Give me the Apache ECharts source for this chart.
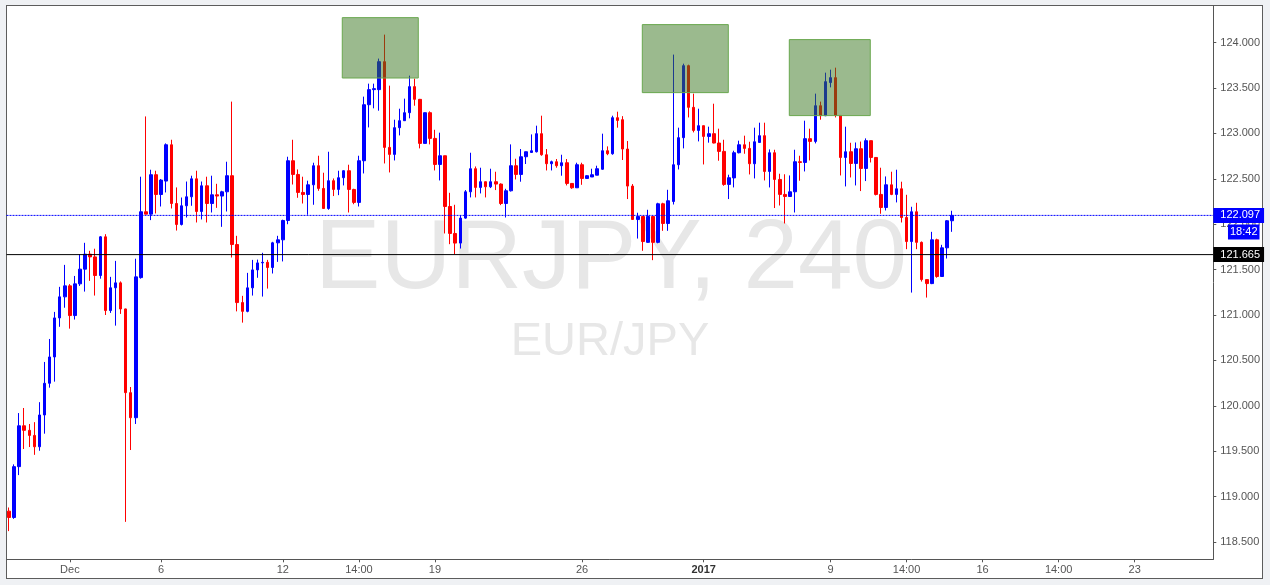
<!DOCTYPE html>
<html>
<head>
<meta charset="utf-8">
<script src="https://cdn.jsdelivr.net/npm/echarts@6/dist/echarts.min.js"></script>
<style>
html,body{margin:0;padding:0;background:#eff1f4;width:1270px;height:585px;overflow:hidden;}
#frame{position:absolute;left:6px;top:5px;width:1257px;height:574px;background:#fff;border:1px solid #5c5c5c;box-sizing:border-box;}
#chart{position:absolute;left:0;top:0;width:1270px;height:585px;}
</style>
</head>
<body>
<div id="frame"></div>
<div id="chart"></div>
<script>
// ---- data (EURJPY, 4h candles) ----
const slotCount = 238; // candle slots incl. future empty area
const categories = Array.from({length: slotCount}, (_, i) => String(i));

const opens = [
118.84,118.77,119.33,119.78,119.73,119.674,119.549,119.899,120.248,120.538,
120.968,121.20,121.321,120.994,121.343,121.505,121.67,121.64,121.435,121.861,
121.049,121.30,121.354,121.067,120.145,119.869,121.412,122.137,122.111,122.545,
122.327,122.475,122.875,122.228,121.997,122.203,122.302,122.50,122.14,122.423,
122.228,122.324,122.31,122.357,122.534,121.776,121.137,121.04,121.299,121.497,
121.574,121.58,121.523,121.795,121.828,122.041,122.699,122.548,122.35,122.327,
122.434,122.644,122.394,122.173,122.479,122.383,122.512,122.589,122.383,122.24,
122.699,123.316,123.482,123.482,123.79,122.846,122.769,123.063,123.14,123.228,
123.515,123.375,122.89,123.228,122.945,122.658,122.754,122.195,121.898,121.792,
122.067,122.357,122.611,122.405,122.468,122.412,122.468,122.442,122.228,122.368,
122.644,122.548,122.743,122.79,122.798,122.997,122.765,122.666,122.688,122.644,
122.677,122.449,122.401,122.655,122.504,122.52,122.54,122.605,122.809,122.776,
123.173,123.151,122.828,122.42,122.052,122.085,121.80,122.085,121.80,122.225,
122.008,122.25,122.655,122.953,123.746,123.287,123.033,123.085,122.967,122.997,
122.894,122.802,122.438,122.51,122.787,122.875,122.835,122.666,122.90,122.975,
122.581,122.787,122.493,122.328,122.305,122.357,122.688,122.68,122.942,122.912,
123.305,123.195,123.56,123.614,123.198,122.735,122.798,122.669,122.831,122.614,
122.92,122.735,122.328,122.184,122.434,122.328,122.39,122.074,121.809,122.137,
121.80,121.39,121.346,121.828,121.424,121.74,122.038
];
const closes = [
118.77,119.33,119.78,119.73,119.674,119.549,119.899,120.248,120.538,120.968,
121.20,121.321,120.994,121.343,121.505,121.67,121.64,121.435,121.861,121.049,
121.30,121.354,121.067,120.145,119.869,121.42,122.137,122.111,122.545,122.327,
122.486,122.875,122.228,121.997,122.203,122.302,122.50,122.14,122.423,122.228,
122.324,122.31,122.357,122.534,121.776,121.137,121.04,121.299,121.497,121.574,
121.58,121.523,121.795,121.828,122.041,122.699,122.548,122.35,122.327,122.434,
122.644,122.394,122.173,122.479,122.383,122.512,122.589,122.383,122.24,122.699,
123.316,123.482,123.493,123.79,122.846,122.769,123.063,123.14,123.228,123.515,
123.375,122.89,123.228,122.945,122.658,122.754,122.195,121.898,121.792,122.067,
122.357,122.611,122.405,122.468,122.412,122.468,122.442,122.228,122.368,122.644,
122.548,122.743,122.798,122.809,122.997,122.765,122.666,122.688,122.644,122.677,
122.449,122.401,122.655,122.504,122.534,122.545,122.611,122.809,122.776,123.173,
123.143,122.828,122.42,122.052,122.085,121.809,122.085,121.80,122.225,122.008,
122.258,122.655,122.953,123.746,123.287,123.033,123.085,122.967,122.997,122.894,
122.802,122.438,122.512,122.787,122.875,122.835,122.666,122.908,122.975,122.581,
122.787,122.493,122.328,122.305,122.357,122.688,122.68,122.942,122.912,123.305,
123.195,123.57,123.614,123.198,122.735,122.798,122.669,122.831,122.614,122.92,
122.735,122.328,122.184,122.434,122.328,122.39,122.074,121.809,122.137,121.80,
121.39,121.346,121.828,121.424,121.74,122.038,122.097
];
const lows = [
118.62,118.755,119.237,119.524,119.546,119.46,119.505,119.693,120.20,120.266,
120.87,121.08,120.85,120.95,121.32,121.258,121.376,121.214,121.40,121.00,
121.023,120.883,121.012,118.722,119.513,119.80,121.40,122.11,122.045,122.118,
122.195,122.35,122.173,121.93,121.986,122.074,122.203,122.019,122.052,122.019,
122.129,122.18,121.971,122.14,121.633,121.04,120.916,121.03,121.214,121.41,
121.203,121.291,121.457,121.585,121.59,122.0,122.437,122.291,122.228,122.104,
122.214,122.368,122.17,122.159,122.31,122.32,122.427,122.129,122.22,122.195,
122.559,123.066,123.276,123.25,122.669,122.57,122.702,122.978,123.14,123.166,
123.305,122.835,122.89,122.879,122.592,122.482,121.898,121.78,121.67,121.732,
122.06,122.295,122.295,122.339,122.295,122.398,122.376,122.21,122.074,122.36,
122.493,122.468,122.663,122.79,122.79,122.754,122.592,122.592,122.622,122.534,
122.427,122.39,122.40,122.434,122.50,122.52,122.54,122.60,122.76,122.765,
123.063,122.707,122.277,122.05,121.842,121.707,121.795,121.604,121.79,121.927,
121.927,122.217,122.603,122.835,123.176,123.011,122.912,122.658,122.898,122.89,
122.699,122.423,122.277,122.405,122.78,122.776,122.548,122.504,122.90,122.482,
122.405,122.178,122.206,122.008,122.305,122.129,122.479,122.581,122.702,122.89,
123.151,123.19,123.507,123.176,122.537,122.416,122.515,122.427,122.365,122.475,
122.68,122.317,122.115,122.151,122.32,122.24,122.019,121.725,121.247,121.725,
121.368,121.192,121.34,121.41,121.42,121.622,121.916
];
const highs = [
118.88,119.355,119.92,119.976,119.80,119.82,120.04,120.483,120.736,121.034,
121.31,121.552,121.34,121.43,121.67,121.795,121.707,121.73,121.87,121.89,
121.42,121.596,121.37,121.07,120.207,121.62,122.523,123.187,122.60,122.589,
122.497,122.89,122.93,122.405,122.294,122.47,122.534,122.589,122.47,122.523,
122.534,122.445,122.368,122.688,123.35,121.872,121.211,121.464,121.607,121.61,
121.685,121.607,121.806,121.872,122.05,122.743,122.93,122.603,122.523,122.479,
122.677,122.754,122.567,122.798,122.504,122.589,122.595,122.655,122.39,122.754,
123.405,123.548,123.548,123.824,124.088,123.526,123.151,123.272,123.383,123.636,
123.603,123.38,123.23,123.243,123.04,123.008,122.754,122.346,122.214,122.1,
122.376,122.787,122.636,122.622,122.47,122.611,122.578,122.45,122.39,122.879,
122.721,122.828,122.80,122.989,123.085,123.195,122.828,122.70,122.718,122.765,
122.718,122.45,122.677,122.677,122.54,122.611,122.644,122.997,122.857,123.195,
123.239,123.19,122.916,122.442,122.126,122.09,122.159,122.09,122.236,122.236,
122.379,123.868,123.063,123.768,123.757,123.438,123.272,123.085,123.074,123.327,
123.052,122.93,122.545,122.809,122.92,122.975,122.908,123.063,123.118,123.118,
122.824,122.82,122.556,122.55,122.537,122.82,122.754,123.14,123.052,123.438,
123.35,123.669,123.702,123.724,123.2,123.074,122.897,122.90,122.91,122.945,
122.92,122.74,122.622,122.526,122.578,122.6,122.468,122.324,122.192,122.236,
121.81,121.39,121.916,121.84,121.773,122.045,122.148
];

const xTickLabels = [[12,'Dec'],[30,'6'],[54,'12'],[69,'14:00'],[84,'19'],[113,'26'],[137,'2017'],[162,'9'],[177,'14:00'],[192,'16'],[207,'14:00'],[222,'23']];
const yTickValues = [118.5,119,119.5,120,120.5,121,121.5,122,122.5,123,123.5,124];
const yRange = [118.3096, 124.4086];

const lastPrice = 122.097;
const lastCountdown = '18:42';
const levelLine = 121.665;

// highlighted zones: [fromSlot, toSlot, lowPrice, highPrice]
const zones = [
  [65.72, 80.71, 123.61, 124.275],
  [124.89, 141.85, 123.449, 124.198],
  [153.88, 169.85, 123.196, 124.033]
];

const watermarkMain = 'EURJPY, 240';
const watermarkSub = 'EUR/JPY';

// ---- chart ----
const tickMap = new Map(xTickLabels);
const candleData = opens.map((o, i) => [o, closes[i], lows[i], highs[i]]);
const FONT = '"Liberation Sans", Arial, sans-serif';
const UP = '#0000ff', DOWN = '#ff0000';
const slotMin = -0.5, slotMax = slotCount - 0.5;

function priceLineSeries(value, color, lineType, z) {
  return {
    type: 'line',
    xAxisIndex: 1,
    yAxisIndex: 0,
    data: [[slotMin, value], [slotMax, value]],
    silent: true,
    showSymbol: false,
    symbol: 'none',
    clip: false,
    color: color,
    z: z,
    lineStyle: {color: color, type: lineType, width: 1, opacity: 1},
    endLabel: {show: true, distance: 0, formatter: () => value.toFixed(3),
      color: '#fff', backgroundColor: color, padding: [2, 4, 1, 7], fontSize: 11, lineHeight: 12, fontFamily: FONT},
    emphasis: {disabled: true}
  };
}

const chart = echarts.init(document.getElementById('chart'));
const option = {
  animation: false,
  backgroundColor: 'transparent',
  grid: {left: 6.5, right: 56.7, top: 5.5, bottom: 25.7},
  xAxis: [{
    type: 'category',
    data: categories,
    boundaryGap: true,
    axisLine: {show: true, onZero: false, lineStyle: {color: '#555', width: 1}},
    axisTick: {show: true, alignWithLabel: true, length: 3, interval: (i) => tickMap.has(i), lineStyle: {color: '#555'}},
    axisLabel: {
      show: true,
      interval: (i) => tickMap.has(i),
      formatter: (v) => {
        const t = tickMap.get(Number(v));
        if (!t) return '';
        return t === '2017' ? '{b|' + t + '}' : t;
      },
      color: '#555', fontSize: 11, fontFamily: FONT, margin: 5,
      rich: {b: {fontWeight: 'bold', color: '#333', fontSize: 11, fontFamily: FONT}}
    },
    splitLine: {show: false}
  }, {
    type: 'value', min: slotMin, max: slotMax, show: false,
    axisLine: {show: false, onZero: false}
  }],
  yAxis: {
    type: 'value',
    position: 'right',
    min: yRange[0], max: yRange[1],
    splitNumber: 12,
    axisLine: {show: true, onZero: false, lineStyle: {color: '#555', width: 1}},
    axisTick: {show: true, length: 3, customValues: yTickValues, lineStyle: {color: '#555'}},
    axisLabel: {customValues: yTickValues, formatter: (v) => Number(v).toFixed(3), color: '#555', fontSize: 11, fontFamily: FONT, margin: 7},
    splitLine: {show: false}
  },
  series: [{
    type: 'candlestick',
    data: candleData,
    barWidth: 3,
    z: 2,
    itemStyle: {color: UP, color0: DOWN, borderColor: UP, borderColor0: DOWN, borderWidth: 1}
  },
  priceLineSeries(lastPrice, UP, [2, 1], 6),
  priceLineSeries(levelLine, '#000000', 'solid', 6),
  {
    type: 'line',
    xAxisIndex: 1,
    yAxisIndex: 0,
    data: [],
    silent: true,
    z: 10,
    markArea: {
      silent: true,
      z: 10,
      itemStyle: {color: 'rgba(56,118,29,0.5)', borderColor: '#6aa84f', borderWidth: 1},
      data: zones.map(z => [{xAxis: z[0], yAxis: z[3]}, {xAxis: z[1], yAxis: z[2]}])
    }
  }],
  graphic: [
    {type: 'text', id: 'wm1', z: 0, x: 611, y: 261, silent: true,
      style: {text: watermarkMain, fontSize: 98, fontFamily: FONT, fill: '#e7e7e7', align: 'center', verticalAlign: 'middle'}},
    {type: 'text', id: 'wm2', z: 0, x: 610, y: 342.5, silent: true,
      style: {text: watermarkSub, fontSize: 47, fontFamily: FONT, fill: '#e7e7e7', align: 'center', verticalAlign: 'middle'}}
  ]
};
chart.setOption(option);

const yPix = chart.convertToPixel({yAxisIndex: 0}, lastPrice);
chart.setOption({
  graphic: [{
    type: 'text', id: 'countdown', z: 100, x: 1259.5, y: yPix + 9, silent: true,
    style: {text: lastCountdown, fill: '#fff', backgroundColor: UP, padding: [2, 2, 1, 2], fontSize: 11, lineHeight: 12, fontFamily: FONT, align: 'right', verticalAlign: 'top'}
  }]
});
</script>
</body>
</html>
